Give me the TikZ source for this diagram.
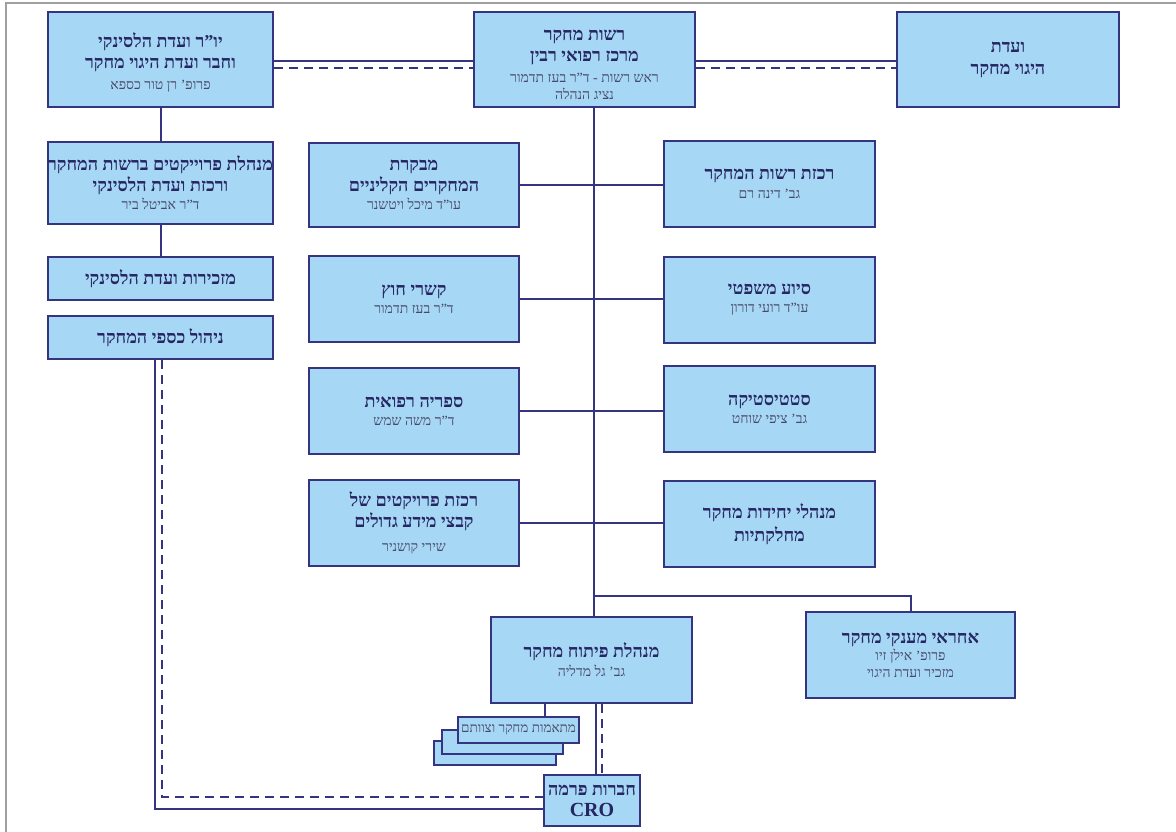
\documentclass[tikz,border=0pt]{standalone}
\usepackage{fontspec}
\setmainfont{Liberation Serif}[Script=Hebrew]
\TeXXeTstate=1
\definecolor{boxfill}{RGB}{166,215,245}
\definecolor{linecol}{RGB}{52,52,128}
\definecolor{titlecol}{RGB}{38,38,98}
\definecolor{subcol}{RGB}{72,72,104}
\newcommand{\ttl}[1]{{\bfseries\color{titlecol}\beginR #1\endR}}
\newcommand{\sbt}[1]{{\fontsize{14}{21}\selectfont\color{subcol}\beginR #1\endR}}
\begin{document}
\begin{tikzpicture}[x=1pt,y=-1pt,
  box/.style={draw=linecol, fill=boxfill, line width=2pt, inner sep=0pt, align=center,
    font=\fontsize{18}{21}\selectfont},
  conn/.style={draw=linecol, line width=2pt},
  dconn/.style={draw=linecol, line width=2pt, dash pattern=on 9pt off 6pt}]
\useasboundingbox (0,0) rectangle (1176,832);
\draw[gray!75, line width=1.5pt] (6,832) -- (6,3) -- (1176,3);

% top row
\node[box, minimum width=225pt, minimum height=95pt] (A) at (160.5,59.5)
  {\rule{0pt}{20pt}\ttl{יו"ר ועדת הלסינקי}\\\ttl{וחבר ועדת היגוי מחקר}\\\sbt{פרופ' רן טור כספא}};
\node[box, minimum width=221pt, minimum height=95pt] (B) at (584.5,59.5)
  {\rule{0pt}{21pt}\ttl{רשות מחקר}\\\ttl{מרכז רפואי רבין}\\\sbt{ראש רשות - ד"ר בעז תדמור}\\[-4pt]\sbt{נציג הנהלה}};
\node[box, minimum width=222pt, minimum height=95pt] (C) at (1008,59.5)
  {\ttl{ועדת}\\[1pt]\ttl{היגוי מחקר}};

% left column
\node[box, minimum width=225pt, minimum height=82pt] (D) at (160.5,183)
  {\ttl{מנהלת פרוייקטים ברשות המחקר}\\\ttl{ורכזת ועדת הלסינקי}\\[-3pt]\sbt{ד"ר אביטל ביר}};
\node[box, minimum width=225pt, minimum height=43pt] (E) at (160.5,278.5)
  {\ttl{מזכירות ועדת הלסינקי}};
\node[box, minimum width=225pt, minimum height=43pt] (F) at (160.5,337.5)
  {\ttl{ניהול כספי המחקר}};

% middle-left column
\node[box, minimum width=210pt, minimum height=84pt] (G1) at (414,185)
  {\ttl{מבקרת}\\\ttl{המחקרים הקליניים}\\[-3pt]\sbt{עו"ד מיכל ויטשנר}};
\node[box, minimum width=210pt, minimum height=86pt] (G2) at (414,299)
  {\ttl{קשרי חוץ}\\[-3pt]\sbt{ד"ר בעז תדמור}};
\node[box, minimum width=210pt, minimum height=86pt] (G3) at (414,411)
  {\ttl{ספריה רפואית}\\[-3pt]\sbt{ד"ר משה שמש}};
\node[box, minimum width=210pt, minimum height=86pt] (G4) at (414,523)
  {\ttl{רכזת פרויקטים של}\\\ttl{קבצי מידע גדולים}\\[3pt]\sbt{שירי קושניר}};

% right column
\node[box, minimum width=211pt, minimum height=86pt] (H1) at (769.5,184)
  {\ttl{רכזת רשות המחקר}\\[-2pt]\sbt{גב' דינה רם}};
\node[box, minimum width=211pt, minimum height=86pt] (H2) at (769.5,300)
  {\ttl{סיוע משפטי}\\[-3pt]\sbt{עו"ד רועי דורון}};
\node[box, minimum width=211pt, minimum height=86pt] (H3) at (769.5,409)
  {\ttl{סטטיסטיקה}\\[-3pt]\sbt{גב' ציפי שוחט}};
\node[box, minimum width=211pt, minimum height=86pt] (H4) at (769.5,524)
  {\ttl{מנהלי יחידות מחקר}\\[2pt]\ttl{מחלקתיות}};

% bottom
\node[box, minimum width=201pt, minimum height=86pt] (M) at (591.5,660)
  {\ttl{מנהלת פיתוח מחקר}\\[-2pt]\sbt{גב' גל מדליה}};
\node[box, minimum width=209pt, minimum height=86pt] (R) at (910.5,655)
  {\ttl{אחראי מענקי מחקר}\\[-4pt]\sbt{פרופ' אילן זיו}\\[-4pt]\sbt{מזכיר ועדת היגוי}};
\node[box, minimum width=96pt, minimum height=51pt] (CRO) at (592,800.5)
  {\ttl{חברות פרמה}\\\textbf{\color{titlecol}\fontsize{20}{21}\selectfont CRO}};

\node[box, minimum width=122pt, minimum height=24pt] (S3) at (495,753) {};
\node[box, minimum width=121pt, minimum height=24pt] (S2) at (502.5,742) {};
\node[box, minimum width=121pt, minimum height=26pt] (S1) at (518.5,730)
  {{\fontsize{13.5}{16}\selectfont\color{subcol}\beginR מתאמות מחקר וצוותם\endR}};

% connectors
\draw[conn] (A.east |- 0,61) -- (B.west |- 0,61);
\draw[dconn] (A.east |- 0,68) -- (B.west |- 0,68);
\draw[conn] (B.east |- 0,61) -- (C.west |- 0,61);
\draw[dconn] (B.east |- 0,68) -- (C.west |- 0,68);

\draw[conn] (A.south) -- (D.north);
\draw[conn] (D.south) -- (E.north);

\draw[conn] (B.south -| 594,0) -- (M.north -| 594,0);
\coordinate (br) at (594,596);
\draw[conn] (br) -| (R.north);

\draw[conn] (G1.east) -- (G1.east -| H1.west);
\draw[conn] (G2.east) -- (G2.east -| H2.west);
\draw[conn] (G3.east) -- (G3.east -| H3.west);
\draw[conn] (G4.east) -- (G4.east -| H4.west);

\draw[conn] (F.south -| 155,0) |- (CRO.west |- 0,809);
\draw[dconn] (F.south -| 162,0) |- (CRO.west |- 0,797);

\draw[conn] (M.south -| 545,0) -- (S1.north -| 545,0);
\draw[conn] (M.south -| 596,0) -- (CRO.north -| 596,0);
\draw[dconn] (M.south -| 602,0) -- (CRO.north -| 602,0);
\end{tikzpicture}
\end{document}
